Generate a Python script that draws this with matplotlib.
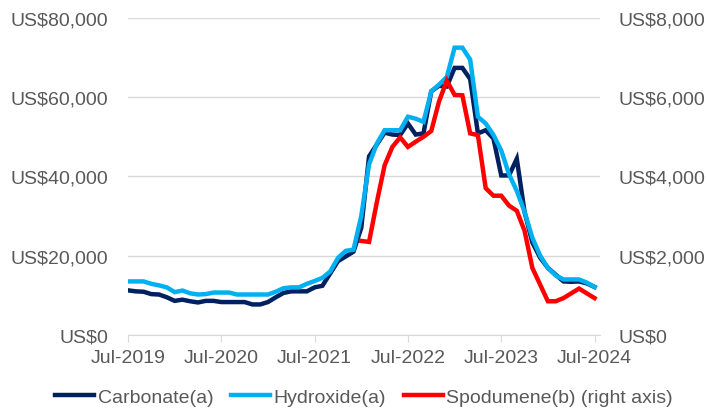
import matplotlib.pyplot as plt
import numpy as np
from matplotlib.ticker import FuncFormatter

plt.rcParams['font.family'] = ['Liberation Sans', 'DejaVu Sans']

# monthly prices, Jul-2019 .. Jul-2024 (US$/t)
carbonate = [11250, 11000, 10900, 10300, 10200, 9500, 8600, 8900, 8500, 8200,
             8600, 8600, 8300, 8300, 8300, 8300, 7700, 7700, 8300, 9500,
             10600, 11000, 11000, 11000, 12000, 12400, 15500, 18600, 19800, 21000,
             27000, 45000, 48000, 51000, 50500, 50400, 53300, 50500, 50800, 61400,
             62800, 62600, 67300, 67300, 64500, 50800, 51600, 49500, 40200, 40200,
             44400, 31000, 23300, 19500, 16900, 15200, 13500, 13400, 13500, 13000,
             12100]
hydroxide = [13500, 13500, 13500, 12900, 12500, 12000, 10800, 11200, 10500, 10200,
             10300, 10700, 10700, 10700, 10200, 10200, 10200, 10200, 10200, 10900,
             11800, 12000, 12000, 12900, 13600, 14400, 16000, 19400, 21200, 21500,
             30000, 43000, 48200, 51600, 51600, 51600, 55000, 54500, 53700, 61400,
             63100, 65000, 72400, 72400, 69400, 55000, 53300, 50400, 46500, 40500,
             36300, 31000, 24500, 20000, 16900, 15000, 14000, 14000, 14000, 13200,
             12100]
# spodumene starts Jan-2022 (right axis)
spodumene = [2370, 2345, 3345, 4275, 4740, 4980, 4740, 4870, 4995, 5140,
             5885, 6410, 6050, 6040, 5080, 5035, 3700, 3510, 3510, 3260,
             3130, 2625, 1690, 1270, 850, 850, 930, 1050, 1170, 1050,
             930]
spod_start = 30
tick_labels = ['Jul-2019', 'Jul-2020', 'Jul-2021', 'Jul-2022', 'Jul-2023', 'Jul-2024']

months = np.arange(len(carbonate))
spod_months = np.arange(spod_start, spod_start + len(spodumene))

grey = '#595959'
gridc = '#D9D9D9'

fig = plt.figure(figsize=(7.07, 4.14), dpi=100)
ax = fig.add_axes([128 / 707, 1 - 336 / 414, 472 / 707, 317.5 / 414])
ax2 = ax.twinx()

l1, = ax.plot(months, carbonate, color='#002060', lw=3.2, label='Carbonate(a)', solid_joinstyle='miter')
l2, = ax.plot(months, hydroxide, color='#00B0F0', lw=3.2, label='Hydroxide(a)', solid_joinstyle='miter')
l3, = ax2.plot(spod_months, spodumene, color='#FF0000', lw=3.2, label='Spodumene(b) (right axis)', solid_joinstyle='miter')

ax.set_xlim(0, 60.7)
ax.set_ylim(0, 80000)
ax2.set_ylim(0, 8000)
ax.set_yticks(np.arange(0, 80001, 20000))
ax2.set_yticks(np.arange(0, 8001, 2000))
ax.yaxis.set_major_formatter(FuncFormatter(lambda v, p: f'US${v:,.0f}'))
ax2.yaxis.set_major_formatter(FuncFormatter(lambda v, p: f'US${v:,.0f}'))
ax.set_xticks(np.arange(0, 61, 12))
ax.set_xticklabels(tick_labels)

ax.grid(axis='y', color=gridc, lw=1)
ax.set_axisbelow(True)
for a in (ax, ax2):
    for s in ['top', 'right', 'left']:
        a.spines[s].set_visible(False)
    a.spines['bottom'].set_visible(False)
ax.spines['bottom'].set_visible(True)
ax.spines['bottom'].set_color(gridc)

ax.tick_params(axis='y', length=0, pad=14, labelsize=14, labelcolor=grey)
ax2.tick_params(axis='y', length=0, pad=13, labelsize=14, labelcolor=grey)
ax.tick_params(axis='x', length=5, color=gridc, pad=5, labelsize=14, labelcolor=grey)

leg = fig.legend(handles=[l1, l2, l3], loc='center', bbox_to_anchor=(364 / 707, 1 - 398 / 414),
                 ncol=3, frameon=False, fontsize=14, handlelength=2.0, handletextpad=0.2,
                 columnspacing=0.9, labelcolor=grey)

plt.savefig('out.png', dpi=100)
